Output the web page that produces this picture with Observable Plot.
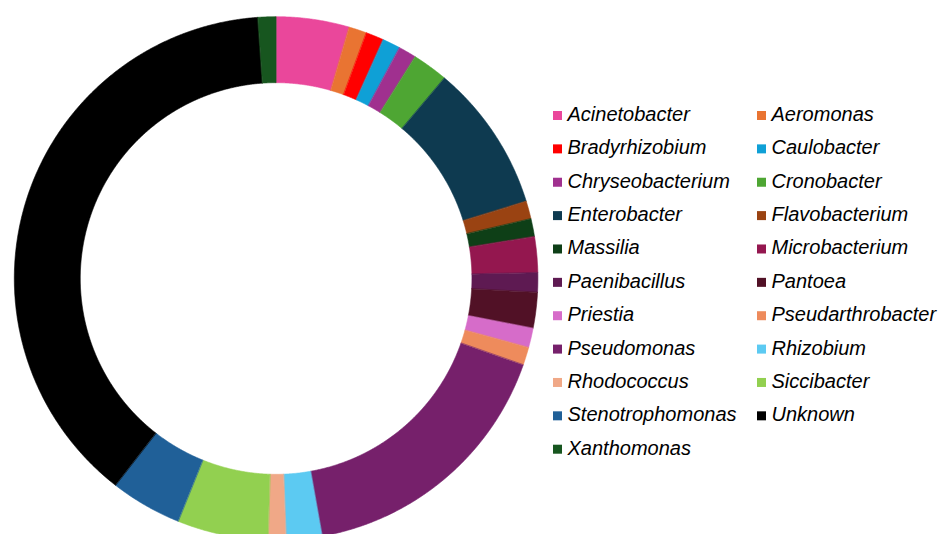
<!DOCTYPE html>
<html>
<head>
<meta charset="utf-8">
<script src="https://cdn.jsdelivr.net/npm/d3@7"></script>
<script src="https://cdn.jsdelivr.net/npm/@observablehq/plot@0.6"></script>
<style>
  html, body { margin: 0; padding: 0; background: #fff; overflow: hidden; }
  #wrap { position: relative; width: 939px; height: 534px; }
  #wrap > svg.legend { position: absolute; left: 0; top: 0; pointer-events: none; }
</style>
</head>
<body>
<div id="wrap"></div>
<script>
// Genera identified among the isolates (alphabetical, drawn clockwise from 12 o'clock)
const genera = [
  "Acinetobacter", "Aeromonas", "Bradyrhizobium", "Caulobacter", "Chryseobacterium",
  "Cronobacter", "Enterobacter", "Flavobacterium", "Massilia", "Microbacterium",
  "Paenibacillus", "Pantoea", "Priestia", "Pseudarthrobacter", "Pseudomonas",
  "Rhizobium", "Rhodococcus", "Siccibacter", "Stenotrophomonas", "Unknown", "Xanthomonas"
];

// Share of isolates per genus (%)
const shares = [
  4.5, 1.1, 1.1, 1.1, 1.1,
  2.2, 9.1, 1.1, 1.1, 2.2,
  1.2, 2.2, 1.2, 1.1, 16.8,
  2.2, 1.1, 5.6, 4.4, 38.3, 1.1
];

// Slice colours, one per genus
const palette = [
  "#ea479b", "#e97432", "#ff0000", "#0fa0d6", "#a0308f",
  "#4ea633", "#0e3a50", "#9a4312", "#0e3f17", "#94174f",
  "#5e1a52", "#511126", "#d66cc9", "#ee8b5c", "#76206b",
  "#5ccaf2", "#f0a887", "#92d050", "#206098", "#000000", "#17561f"
];

// Ring geometry (in unit data space: outer radius 1)
const outer = 1;
const inner = 0.748;

// Build one closed outline per slice from the cumulative shares
const total = d3.sum(shares);
const ring = [];
let acc = 0;
genera.forEach((genus, i) => {
  const a0 = (acc / total) * 2 * Math.PI;
  acc += shares[i];
  const a1 = (acc / total) * 2 * Math.PI;
  const n = Math.max(2, Math.ceil((a1 - a0) / (Math.PI / 720)));
  for (let k = 0; k <= n; k++) {
    const a = a0 + (a1 - a0) * k / n;
    ring.push({genus, x: outer * Math.sin(a), y: outer * Math.cos(a)});
  }
  for (let k = n; k >= 0; k--) {
    const a = a0 + (a1 - a0) * k / n;
    ring.push({genus, x: inner * Math.sin(a), y: inner * Math.cos(a)});
  }
});

const cx = 275.6, cy = 278, R = 261.8;

const chart = Plot.plot({
  width: 939,
  height: 534,
  margin: 0,
  x: {domain: [-1, 1], range: [cx - R, cx + R], axis: null},
  y: {domain: [-1, 1], range: [cy + R, cy - R], axis: null},
  color: {domain: genera, range: palette},
  marks: [
    Plot.line(ring, {
      x: "x",
      y: "y",
      z: "genus",
      fill: "genus",
      stroke: "genus",
      strokeWidth: 0.6,
      curve: "linear-closed"
    })
  ]
});

const wrap = document.getElementById("wrap");
wrap.appendChild(chart);

// Two-column legend to the right of the ring
const color = chart.scale("color");
const legend = d3.select(wrap).append("svg")
  .attr("class", "legend")
  .attr("width", 939)
  .attr("height", 534);

const colX = [553, 757];
const rowY0 = 115.5, rowStep = 33.37;

const items = legend.selectAll("g")
  .data(genera)
  .join("g")
  .attr("transform", (d, i) => `translate(${colX[i % 2]},${rowY0 + Math.floor(i / 2) * rowStep})`);

items.append("rect")
  .attr("x", 0).attr("y", -4.5)
  .attr("width", 9).attr("height", 9)
  .attr("fill", d => color.apply(d));

items.append("text")
  .attr("x", 14.5).attr("y", 5.5)
  .attr("font-family", "'Liberation Sans', Arial, Helvetica, sans-serif")
  .attr("font-style", "italic")
  .attr("font-size", 20)
  .attr("fill", "#000")
  .text(d => d);
</script>
</body>
</html>
